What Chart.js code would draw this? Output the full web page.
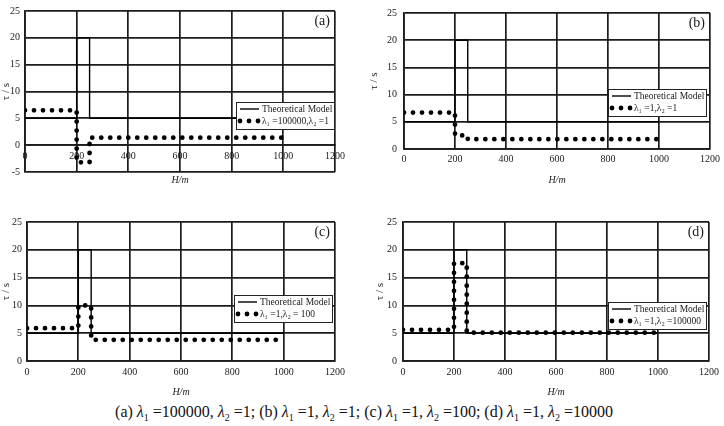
<!DOCTYPE html>
<html>
<head>
<meta charset="utf-8">
<script src="https://cdn.jsdelivr.net/npm/chart.js@4.4.1/dist/chart.umd.min.js"></script>
<style>
  html,body{margin:0;padding:0;background:#fff;}
  body{width:724px;height:426px;position:relative;overflow:hidden;font-family:"Liberation Serif","Times New Roman",serif;}
  .pn{position:absolute;}
  #cap{position:absolute;left:0;width:728px;top:403px;text-align:center;font-size:16px;color:#111;white-space:nowrap;}
  #cap sub{font-size:10px;}
</style>
</head>
<body>
<div class="pn" style="left:0;top:0;width:362px;height:186px"><canvas id="ca"></canvas></div>
<div class="pn" style="left:362px;top:0;width:362px;height:186px"><canvas id="cb"></canvas></div>
<div class="pn" style="left:0;top:205px;width:362px;height:193px"><canvas id="cc"></canvas></div>
<div class="pn" style="left:362px;top:205px;width:362px;height:193px"><canvas id="cd"></canvas></div>
<div id="cap">(a) <i>λ</i><sub>1</sub> =100000, <i>λ</i><sub>2</sub> =1; (b) <i>λ</i><sub>1</sub> =1, <i>λ</i><sub>2</sub> =1; (c) <i>λ</i><sub>1</sub> =1, <i>λ</i><sub>2</sub> =100; (d) <i>λ</i><sub>1</sub> =1, <i>λ</i><sub>2</sub> =10000</div>
<script>
/* tau vs H — theoretical model vs simulated step responses, 4 panels */
const X_TICKS=[0,200,400,600,800,1000,1200];
const Y_TICKS_A=[-5,0,5,10,15,20,25];
const Y_TICKS=[0,5,10,15,20,25];

// theoretical model (same for all panels)
const H_THEORY=[0,200,200,250,250,1000];
const T_THEORY=[5,5,20,20,5,5];

// simulated series
const H_SIM=[0,200,200,250,250,1000];
const T_A=[6.5,6.5,-3.2,-3.2,1.4,1.4];
const T_B=[6.7,6.7,2.5,2.5,1.8,1.8];
const T_C=[5.9,5.9,10,10,3.8,3.8];
const T_D=[5.6,5.6,17.6,17.6,5.1,5.1];

const THEORY_LABEL='Theoretical Model';
const SIM_LABELS=['λ₁ =100000,λ₂ =1','λ₁ =1,λ₂ =1','λ₁ =1,λ₂ = 100','λ₁ =1,λ₂ =100000'];
const TAGS=['(a)','(b)','(c)','(d)'];

const FONT='"Liberation Serif","Times New Roman",serif';
const GRID='#1c1c1c', INK='#1a1a1a';

// legend box drawn inside the plot, top-right, plus the panel tag
const boxLegend={id:'boxLegend',afterDatasetsDraw(chart,args,o){
  const ctx=chart.ctx,a=chart.chartArea;
  const x0=Math.round(a.right-o.width-o.dx), y0=Math.round(a.top+o.top);
  ctx.save();
  ctx.fillStyle='#fff'; ctx.fillRect(x0,y0,o.width,o.height);
  ctx.strokeStyle='#222'; ctx.lineWidth=1; ctx.strokeRect(x0+0.5,y0+0.5,o.width-1,o.height-1);
  ctx.font='9.5px '+FONT; ctx.textBaseline='middle'; ctx.fillStyle=INK;
  chart.data.datasets.forEach((ds,i)=>{
    const yy=y0+7+i*12;
    ctx.beginPath();
    ctx.lineWidth=ds.borderWidth; ctx.strokeStyle=ds.borderColor;
    ctx.setLineDash(ds.borderDash||[]); ctx.lineCap=ds.borderCapStyle||'butt';
    ctx.moveTo(x0+4,yy); ctx.lineTo(x0+23,yy); ctx.stroke();
    ctx.setLineDash([]);
    ctx.fillText(ds.label,x0+26,yy);
  });
  ctx.font='14px '+FONT; ctx.textAlign='right'; ctx.textBaseline='middle';
  ctx.fillText(o.tag,a.right-5,a.top+10);
  ctx.restore();
}};

function pts(xs,ys){return xs.map((x,i)=>({x:x,y:ys[i]}));}

function panel(id,idx,sim,o){
  const scales={
    x:{type:'linear',min:0,max:1200,position:o.xZero?{y:0}:'bottom',
      afterBuildTicks:s=>{s.ticks=X_TICKS.map(v=>({value:v}));},
      ticks:{font:{family:FONT,size:10},color:INK,padding:o.xPad,maxRotation:0,callback:v=>String(v)},
      grid:{color:GRID,lineWidth:1.7,drawTicks:false},
      border:{color:GRID,width:1.7},
      title:{display:!o.xZero,text:'H/m',font:{family:FONT,size:10,style:'italic'},color:INK,padding:{top:o.xtPad,bottom:0}}},
    y:{type:'linear',min:o.ymin,max:25,
      afterBuildTicks:s=>{s.ticks=(o.ymin<0?Y_TICKS_A:Y_TICKS).map(v=>({value:v}));},
      afterFit:s=>{s.width=o.yw;},
      ticks:{font:{family:FONT,size:10},color:INK,padding:o.yPad,callback:v=>String(v)},
      grid:{color:GRID,lineWidth:1.7,drawTicks:false},
      border:{color:GRID,width:1.7},
      title:{display:true,text:'τ / s',font:{family:FONT,size:11},color:INK,padding:{top:o.ytPad,bottom:0}}}
  };
  if(o.xZero){
    scales.xt={type:'linear',min:0,max:1,position:'bottom',display:true,
      ticks:{display:false},grid:{display:false,drawTicks:false},border:{display:false},
      title:{display:true,text:'H/m',font:{family:FONT,size:10,style:'italic'},color:INK,padding:{top:2,bottom:0}}};
  }
  return new Chart(document.getElementById(id),{
    type:'line',
    data:{datasets:[
      {label:THEORY_LABEL,data:pts(H_THEORY,T_THEORY),borderColor:'#000',borderWidth:1.4,pointRadius:0,tension:0,order:1},
      {label:SIM_LABELS[idx],data:pts(H_SIM,sim),borderColor:'#000',borderWidth:4.8,borderDash:[0,9],borderCapStyle:'round',pointRadius:0,tension:0,order:0}
    ]},
    options:{
      responsive:true,maintainAspectRatio:false,animation:false,devicePixelRatio:1,
      parsing:false,
      layout:{padding:{top:o.pt,right:o.pr,left:0,bottom:0}},
      plugins:{legend:{display:false},tooltip:{enabled:false},
        boxLegend:{top:o.lt,width:99,height:28,dx:o.ldx,tag:TAGS[idx]}},
      scales:scales
    },
    plugins:[boxLegend]
  });
}

panel('ca',0,T_A,{xZero:true,ymin:-5,pt:8,pr:27,yw:25,yPad:5,ytPad:0,xPad:5,xtPad:2,lt:91,ldx:0});
panel('cb',1,T_B,{xZero:false,ymin:0,pt:7,pr:9,yw:42,yPad:7,ytPad:6,xPad:4,xtPad:5,lt:76,ldx:3});
panel('cc',2,T_C,{xZero:false,ymin:0,pt:17,pr:27,yw:27,yPad:5,ytPad:0,xPad:5,xtPad:3,lt:73,ldx:2});
panel('cd',3,T_D,{xZero:false,ymin:0,pt:17,pr:10,yw:41,yPad:6,ytPad:12,xPad:5,xtPad:3,lt:80,ldx:2});
</script>
</body>
</html>
